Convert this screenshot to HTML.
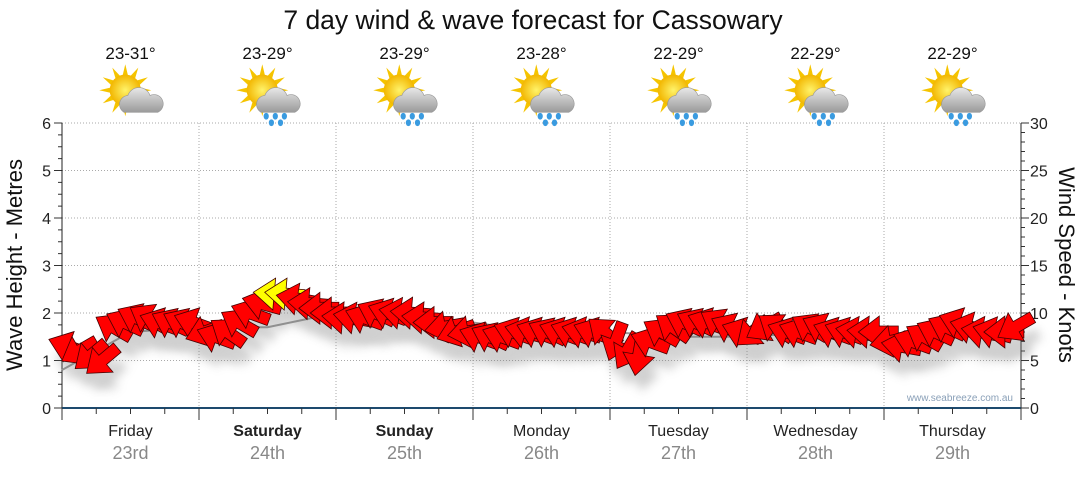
<!DOCTYPE html>
<html><head><meta charset="utf-8"><style>
body{margin:0;background:#fff;width:1080px;height:475px;overflow:hidden;font-family:"Liberation Sans","DejaVu Sans",sans-serif}
</style></head><body>
<svg width="1080" height="475" xmlns="http://www.w3.org/2000/svg">
<defs>
<filter id="sh" x="-50%" y="-50%" width="200%" height="200%"><feGaussianBlur stdDeviation="5"/></filter>
<radialGradient id="sun" cx="50%" cy="50%" r="50%"><stop offset="0" stop-color="#fff36a"/><stop offset="1" stop-color="#f2b600"/></radialGradient>
<linearGradient id="cloud" x1="0" y1="0" x2="0" y2="1"><stop offset="0" stop-color="#e8e8e8"/><stop offset="1" stop-color="#9a9a9a"/></linearGradient>
</defs>
<text x="533" y="29" text-anchor="middle" font-size="26.5" fill="#111">7 day wind &amp; wave forecast for Cassowary</text>
<g id="grid"></g>
<g id="axes"></g>
<g id="icons"></g>
<g id="wave"></g>
<g id="shadows" opacity="0.35"></g>
<g id="arrows"></g>
<text x="1013" y="401" text-anchor="end" font-size="10" fill="#8aa0b8">www.seabreeze.com.au</text>
<text transform="translate(22,265) rotate(-90)" text-anchor="middle" font-size="22" fill="#111">Wave Height - Metres</text>
<text transform="translate(1059,265) rotate(90)" text-anchor="middle" font-size="22" fill="#111">Wind Speed - Knots</text>
</svg>
<script>
const days=["Friday","Saturday","Sunday","Monday","Tuesday","Wednesday","Thursday"];
const dates=["23rd","24th","25th","26th","27th","28th","29th"];
const boldDays=[false,true,true,false,false,false,false];
const temps=["23-31°","23-29°","23-29°","23-28°","22-29°","22-29°","22-29°"];
const rainy=[false,true,true,true,true,true,true];
const waveTicks=[0,1,2,3,4,5,6];
const windTicks=[0,5,10,15,20,25,30];
const windSpeed=[6.5,6,5.5,5,8.5,9,9.5,9.5,9,9,9,9,
8,7.5,8,9,10,11,12,12,11.5,11,10.5,10,
9.5,9.5,9.5,10,10,10,10,9.5,9,8.5,8,8,
7.5,7.5,7.5,8,8,8,8,8,8,8,8,8,
7,6,5.5,7,8,8.5,9,9,9,9,8.5,8,
8,8.5,8.5,8,8,8.5,8.5,8,8,8,8,8,
7,6.5,7,7.5,8,8.5,9,8.5,8,8,8,8.5];
const windDir=[200,150,140,140,210,205,205,210,200,205,205,200,
160,200,215,210,200,195,185,185,190,185,180,180,
185,190,200,205,200,190,185,185,180,170,160,170,
200,205,200,200,195,200,205,200,200,195,200,220,
110,120,100,200,210,215,205,205,200,210,205,200,
140,150,215,200,200,210,205,200,200,190,185,180,
170,190,200,210,205,205,200,195,190,195,180,150];
const waveHeight=[0.8,1.6,1.7,1.7,2.0,1.9,1.8,1.6,1.6,1.5,1.5,1.6,1.6,1.5,1.5];
const NS="http://www.w3.org/2000/svg";
const X0=62,X1=1021,Y0=408,Y1=123,DW=(X1-X0)/7;
const yW=v=>Y0-(v/6)*(Y0-Y1);
const yK=v=>Y0-(v/30)*(Y0-Y1);
const xH=h=>X0+h/24*DW;
function el(t,a,p){const e=document.createElementNS(NS,t);for(const k in a)e.setAttribute(k,a[k]);p.appendChild(e);return e;}
const grid=document.getElementById('grid'),axes=document.getElementById('axes'),icons=document.getElementById('icons');
waveTicks.forEach(v=>{if(v>0){const l=el('line',{x1:X0,x2:X1,y1:yW(v),y2:yW(v),stroke:'#aaa','stroke-dasharray':'1,2'},grid);

}
const t=el('text',{x:51,y:yW(v)+6,'text-anchor':'end','font-size':16,fill:'#222'},axes);t.textContent=v;

});
for(let v=0;v<=6.001;v+=0.25){const y=yW(v);el('line',{x1:X0-(v%1===0?8:4),x2:X0,y1:y,y2:y,stroke:'#333'},axes);}
windTicks.forEach(v=>{const t=el('text',{x:1030,y:yK(v)+6,'font-size':16,fill:'#222'},axes);t.textContent=v;

});
for(let v=0;v<=30;v++){const y=yK(v);el('line',{x1:X1,x2:X1+(v%5===0?8:4),y1:y,y2:y,stroke:'#333'},axes);}
el('line',{x1:X0,x2:X0,y1:Y1,y2:Y0,stroke:'#222'},axes);
el('line',{x1:X1,x2:X1,y1:Y1,y2:Y0,stroke:'#222'},axes);
el('line',{x1:X0,x2:X1,y1:Y0,y2:Y0,stroke:'#1d4a6e','stroke-width':2},axes);
for(let h=0;h<=168;h+=6){const x=xH(h);el('line',{x1:x,x2:x,y1:Y0,y2:Y0+(h%24===0?12:6),stroke:'#333'},axes);}
days.forEach((d,i)=>{const cx=X0+DW*(i+0.5);
if(i>0){const l=el('line',{x1:X0+DW*i,x2:X0+DW*i,y1:Y1,y2:Y0,stroke:'#aaa','stroke-dasharray':'1,2'},grid);

}
const t=el('text',{x:cx,y:436,'text-anchor':'middle','font-size':16,fill:'#222','font-weight':boldDays[i]?'bold':'normal'},axes);t.textContent=d;


const t2=el('text',{x:cx,y:459,'text-anchor':'middle','font-size':18,fill:'#888'},axes);t2.textContent=dates[i];


const t3=el('text',{x:cx,y:59,'text-anchor':'middle','font-size':17,fill:'#111'},icons);t3.textContent=temps[i];


const g=el('g',{transform:`translate(${cx},98) scale(1.3)`},icons);


for(let a=0;a<360;a+=30){const r=a*Math.PI/180;el('polygon',{points:`${-4+Math.cos(r)*20},${-6+Math.sin(r)*20} ${-4+Math.cos(r+0.2)*11},${-6+Math.sin(r+0.2)*11} ${-4+Math.cos(r-0.2)*11},${-6+Math.sin(r-0.2)*11}`,fill:'#f5c400'},g);}
el('circle',{cx:-4,cy:-6,r:12,fill:'url(#sun)'},g);
el('path',{d:'M-5,11 a7,7 0 0 1 3,-13 a9,9 0 0 1 17,0 a6.5,6.5 0 0 1 6,13 z',fill:'url(#cloud)',stroke:'#999','stroke-width':0.5},g);
if(rainy[i]){[[-1,14],[6,14],[13,14],[3,19],[10,19]].forEach(p=>el('ellipse',{cx:p[0],cy:p[1],rx:2,ry:2.6,fill:'#3a9be0'},g));}
});
const wave=document.getElementById('wave');
const pts=waveHeight.map((v,i)=>`${xH(i*12)},${yW(v)}`).join(' ');
const wl=el('polyline',{points:pts,fill:'none',stroke:'#999','stroke-width':2},wave);


const arrows=document.getElementById('arrows'),sh=document.getElementById('shadows');
const shape="M20,0 L-1,-16 L-1,-6 L-20,-6 L-20,6 L-1,6 L-1,16 Z";
windSpeed.forEach((s,i)=>{const x=xH(i*2+1),y=yK(s);
el('path',{d:shape,transform:`translate(${x+6},${y+16}) rotate(${windDir[i]})`,fill:'#777',filter:'url(#sh)'},sh);
const a=el('path',{d:shape,transform:`translate(${x},${y}) rotate(${windDir[i]})`,fill:s>=12?'#ffff00':'#ff0000',stroke:'#400','stroke-width':0.8},arrows);

});
</script>
</body></html>
